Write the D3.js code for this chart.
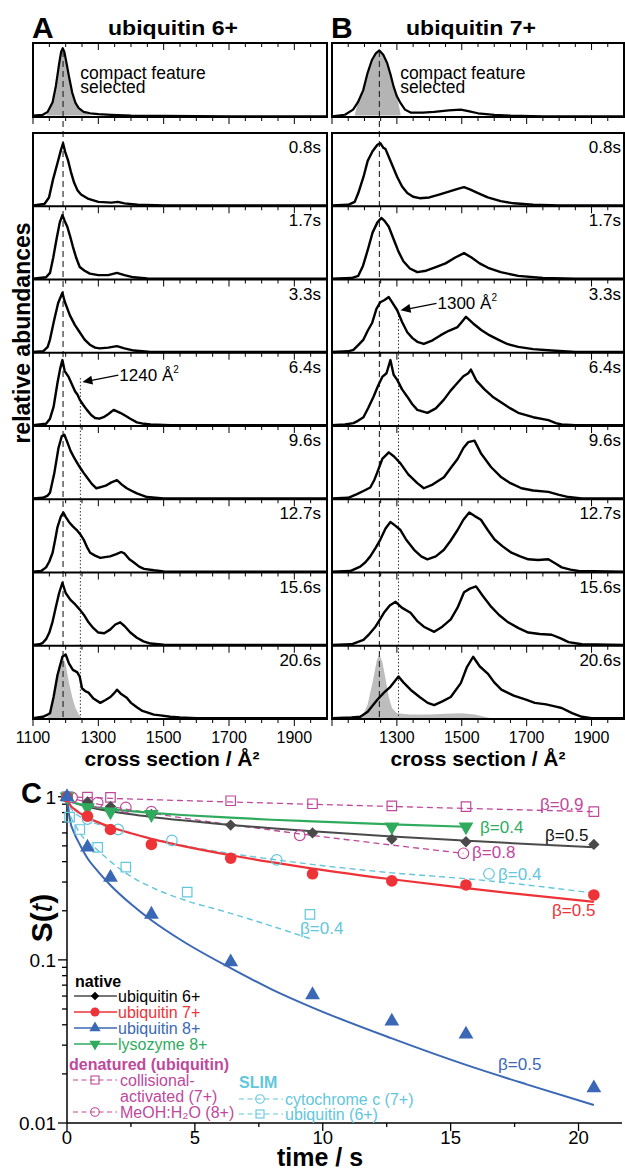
<!DOCTYPE html>
<html><head><meta charset="utf-8">
<script src="https://cdn.jsdelivr.net/npm/d3@7"></script>
<style>
body{margin:0;background:#fff}
text{font-family:Arial,"Liberation Sans",sans-serif}
</style>
</head><body>
<svg id="fig" width="625" height="1173"></svg>
<script>
// ---- A: ubiquitin 6+  [cross section, relative abundance] ----
const aSel = [[1100,.02],[1130,.03],[1145,.07],[1160,.2],[1170,.42],[1180,.72],[1186,.88],[1191,.93],[1196,.88],[1203,.72],[1210,.55],[1220,.33],[1230,.19],[1240,.12],[1255,.07],[1275,.05],[1300,.04],[1340,.03],[1400,.02],[1500,.015],[1700,.01],[2000,.01]];
const aSelFill = [[1140,.02],[1150,.1],[1160,.2],[1170,.42],[1180,.72],[1186,.88],[1191,.93],[1196,.88],[1203,.72],[1210,.55],[1220,.33],[1230,.19],[1240,.12],[1255,.07],[1275,.03]];
const a08 = [[1100,.01],[1135,.03],[1149,.12],[1161,.36],[1175,.59],[1185,.76],[1192,.86],[1198,.75],[1207,.63],[1216,.47],[1226,.32],[1236,.22],[1247,.16],[1270,.1],[1300,.06],[1340,.05],[1360,.06],[1380,.04],[1420,.02],[1500,.01],[2000,.01]];
const a17 = [[1100,.01],[1140,.03],[1152,.09],[1162,.3],[1172,.55],[1182,.78],[1190,.88],[1197,.8],[1205,.72],[1213,.6],[1222,.45],[1232,.3],[1243,.17],[1258,.12],[1274,.08],[1300,.06],[1330,.06],[1357,.09],[1380,.06],[1408,.03],[1450,.015],[1550,.01],[2000,.01]];
const a33 = [[1100,.01],[1131,.02],[1145,.08],[1152,.18],[1165,.45],[1177,.68],[1190,.82],[1197,.7],[1213,.51],[1228,.38],[1243,.28],[1258,.18],[1274,.11],[1290,.07],[1304,.06],[1330,.07],[1357,.09],[1380,.06],[1409,.03],[1460,.01],[2000,.01]];
const a64 = [[1100,.01],[1140,.03],[1152,.1],[1163,.26],[1175,.59],[1183,.78],[1190,.9],[1197,.75],[1209,.67],[1220,.56],[1229,.47],[1236,.43],[1243,.36],[1255,.28],[1265,.22],[1278,.15],[1290,.11],[1303,.1],[1316,.12],[1330,.16],[1347,.22],[1357,.2],[1367,.18],[1383,.14],[1398,.1],[1418,.05],[1440,.03],[1460,.02],[1520,.01],[2000,.01]];
const a96 = [[1100,.01],[1130,.02],[1145,.05],[1152,.09],[1165,.35],[1178,.7],[1188,.86],[1196,.88],[1205,.78],[1215,.66],[1228,.55],[1243,.44],[1255,.36],[1265,.3],[1280,.21],[1294,.15],[1310,.17],[1325,.19],[1340,.23],[1357,.26],[1372,.2],[1387,.15],[1400,.12],[1418,.08],[1449,.03],[1500,.01],[2000,.01]];
const a127 = [[1100,.01],[1125,.02],[1140,.07],[1150,.15],[1160,.27],[1168,.45],[1175,.62],[1185,.76],[1193,.82],[1200,.76],[1210,.69],[1222,.63],[1234,.58],[1245,.52],[1255,.45],[1265,.35],[1275,.27],[1290,.23],[1306,.2],[1320,.21],[1336,.22],[1355,.25],[1370,.28],[1380,.26],[1395,.18],[1408,.14],[1425,.08],[1440,.05],[1470,.03],[1500,.015],[2000,.01]];
const a156 = [[1100,.01],[1120,.02],[1130,.04],[1140,.09],[1150,.18],[1160,.33],[1170,.53],[1180,.72],[1190,.86],[1200,.72],[1214,.63],[1230,.56],[1244,.49],[1256,.42],[1270,.32],[1285,.24],[1300,.18],[1318,.17],[1336,.22],[1352,.29],[1367,.32],[1380,.27],[1398,.18],[1418,.11],[1438,.06],[1460,.03],[1500,.015],[2000,.01]];
const a206 = [[1100,.01],[1130,.03],[1145,.06],[1152,.08],[1163,.3],[1175,.6],[1190,.85],[1200,.88],[1210,.76],[1222,.67],[1235,.64],[1243,.58],[1250,.42],[1260,.38],[1270,.36],[1285,.28],[1306,.22],[1322,.26],[1337,.3],[1350,.36],[1357,.4],[1370,.34],[1387,.29],[1400,.22],[1418,.16],[1435,.11],[1449,.09],[1470,.06],[1490,.05],[1520,.03],[1550,.02],[1600,.01],[2000,.01]];
const aRef = [[1140,0],[1150,.05],[1160,.2],[1170,.45],[1180,.72],[1190,.88],[1200,.74],[1210,.5],[1220,.3],[1230,.15],[1240,.06],[1250,0]];

// ---- B: ubiquitin 7+ ----
const bSel = [[1100,.01],[1140,.03],[1165,.1],[1180,.2],[1196,.36],[1210,.6],[1223,.77],[1235,.86],[1246,.9],[1258,.84],[1270,.73],[1280,.58],[1290,.41],[1300,.28],[1311,.19],[1325,.1],[1342,.06],[1380,.06],[1415,.07],[1460,.09],[1497,.1],[1520,.08],[1550,.05],[1600,.03],[1650,.02],[1750,.01],[2000,.01]];
const bSelFill = [[1170,.03],[1180,.2],[1196,.36],[1210,.6],[1223,.77],[1235,.86],[1246,.9],[1258,.84],[1270,.73],[1280,.58],[1290,.41],[1300,.28],[1311,.05]];
const b08 = [[1100,.01],[1150,.02],[1170,.06],[1181,.18],[1197,.4],[1210,.62],[1225,.75],[1240,.84],[1249,.86],[1258,.8],[1265,.78],[1280,.62],[1301,.4],[1316,.27],[1332,.18],[1350,.13],[1370,.11],[1400,.12],[1430,.16],[1460,.2],[1490,.24],[1507,.26],[1525,.23],[1550,.18],[1580,.12],[1620,.07],[1660,.04],[1720,.02],[1800,.01],[2000,.01]];
const b17 = [[1100,.01],[1160,.02],[1181,.05],[1195,.18],[1210,.4],[1225,.64],[1240,.78],[1252,.84],[1262,.8],[1275,.72],[1290,.55],[1305,.38],[1320,.25],[1340,.15],[1363,.1],[1390,.12],[1420,.17],[1450,.22],[1480,.3],[1507,.36],[1530,.3],[1555,.22],[1581,.16],[1620,.1],[1674,.05],[1750,.02],[1850,.01],[2000,.01]];
const b33 = [[1100,.01],[1150,.02],[1166,.04],[1180,.1],[1197,.18],[1210,.3],[1224,.41],[1237,.6],[1249,.69],[1262,.72],[1275,.76],[1288,.67],[1301,.58],[1316,.42],[1332,.28],[1348,.2],[1363,.15],[1383,.12],[1410,.17],[1435,.24],[1460,.3],[1487,.35],[1500,.42],[1513,.49],[1535,.4],[1560,.31],[1585,.24],[1612,.18],[1640,.12],[1674,.08],[1720,.05],[1777,.03],[1850,.01],[2000,.01]];
const b64 = [[1100,.01],[1140,.02],[1166,.04],[1180,.07],[1197,.12],[1212,.25],[1228,.4],[1242,.55],[1255,.67],[1268,.72],[1280,.9],[1290,.7],[1301,.63],[1316,.5],[1332,.4],[1347,.3],[1363,.22],[1394,.18],[1420,.24],[1445,.36],[1465,.48],[1487,.59],[1505,.68],[1520,.72],[1528,.77],[1545,.62],[1570,.5],[1595,.4],[1622,.32],[1650,.24],[1674,.18],[1720,.12],[1767,.08],[1790,.04],[1808,.02],[1850,.01],[2000,.01]];
const b96 = [[1100,.01],[1150,.02],[1177,.07],[1200,.12],[1218,.16],[1230,.26],[1239,.36],[1255,.55],[1275,.64],[1292,.58],[1311,.49],[1335,.34],[1363,.22],[1383,.15],[1410,.2],[1445,.3],[1470,.45],[1487,.55],[1505,.7],[1520,.78],[1539,.8],[1560,.62],[1590,.44],[1622,.3],[1650,.22],[1684,.15],[1720,.12],[1767,.1],[1800,.06],[1829,.03],[1870,.01],[2000,.01]];
const b127 = [[1100,.01],[1156,.02],[1187,.08],[1203,.14],[1218,.22],[1235,.34],[1249,.45],[1265,.6],[1280,.69],[1295,.64],[1311,.58],[1330,.44],[1353,.31],[1375,.22],[1394,.18],[1420,.22],[1445,.31],[1465,.43],[1487,.58],[1505,.72],[1523,.82],[1540,.77],[1559,.72],[1580,.58],[1601,.45],[1625,.36],[1653,.27],[1680,.22],[1705,.18],[1735,.17],[1767,.18],[1790,.12],[1808,.07],[1835,.04],[1860,.02],[2000,.01]];
const b156 = [[1100,.01],[1160,.02],[1197,.08],[1215,.16],[1234,.26],[1248,.36],[1260,.45],[1278,.55],[1296,.6],[1315,.52],[1342,.45],[1362,.34],[1383,.26],[1415,.19],[1440,.26],[1466,.36],[1487,.52],[1507,.73],[1525,.78],[1544,.81],[1565,.68],[1591,.53],[1615,.42],[1643,.32],[1675,.24],[1705,.18],[1740,.16],[1777,.15],[1805,.1],[1829,.05],[1870,.02],[2000,.01]];
const b206 = [[1100,.01],[1160,.02],[1187,.03],[1210,.1],[1239,.26],[1260,.36],[1280,.44],[1305,.58],[1320,.5],[1342,.4],[1370,.3],[1395,.22],[1415,.19],[1440,.24],[1466,.3],[1497,.49],[1515,.7],[1535,.85],[1555,.72],[1580,.62],[1600,.5],[1622,.4],[1660,.32],[1700,.26],[1725,.22],[1760,.2],[1790,.17],[1808,.15],[1840,.08],[1870,.03],[1900,.01],[2000,.01]];
const bRef = [[1180,0],[1195,.05],[1210,.2],[1225,.5],[1238,.8],[1246,.88],[1255,.78],[1265,.55],[1275,.3],[1285,.15],[1300,.08],[1340,.06],[1400,.06],[1450,.07],[1500,.08],[1540,.06],[1570,.03],[1600,0]];

const timeLabels = ["0.8s","1.7s","3.3s","6.4s","9.6s","12.7s","15.6s","20.6s"];
const ccsMajor = [1100,1300,1500,1700,1900];

// ---- C: survival S(t) ----
const tNative = [0,0.8,1.7,3.3,6.4,9.6,12.7,15.6,20.6];
const sUbq6 = [1,.93,.87,.78,.67,.60,.55,.53,.51];
const sUbq7 = [1,.76,.63,.51,.42,.337,.305,.288,.25];
const sUbq8 = [1,.49,.32,.19,.097,.061,.042,.035,.0164];
const tLyso = [0,0.8,1.7,3.3,12.7,15.6];
const sLyso = [1,.86,.81,.78,.655,.655];
const tColl = [0,0.8,1.7,6.4,9.6,12.7,15.6,20.6];
const sColl = [1,.995,.99,.945,.906,.88,.87,.81];
const tMeoh = [0,0.2,1.2,2.3,3.3,9.1,15.5];
const sMeoh = [1,.99,.92,.86,.81,.58,.45];
const tCyt = [0,0.8,2.0,4.1,8.2,16.5];
const sCyt = [1,.73,.63,.54,.41,.337];
const tSlimU = [0,0.1,0.5,1.2,2.3,4.7,9.5];
const sSlimU = [1,.75,.63,.49,.37,.26,.19];

// fitted curves
const tFit = [0,0.1,0.3,0.5,0.8,1.2,1.7,2.5,3.3,4.5,6.4,8,9.6,12.7,15.6,18,20.6];
const fitUbq6 = [1,.95,.918,.895,.869,.842,.815,.78,.752,.717,.672,.641,.614,.571,.538,.513,.49];
const fitUbq7 = [1,.902,.836,.794,.747,.699,.653,.597,.552,.5,.438,.397,.363,.312,.275,.25,.227];
const fitUbq8 = [1,.74,.59,.51,.42,.35,.287,.22,.175,.131,.089,.066,.051,.033,.0227,.0172,.0129];
const tFitLyso = [0,0.1,0.3,0.5,0.8,1.2,1.7,2.5,3.3,4.5,6.4,8,9.6,12.7,15.6];
const fitLyso = [1,.945,.917,.899,.879,.859,.84,.816,.797,.773,.744,.723,.706,.677,.655];
const tFitColl = [0,0.1,0.8,1.7,3.3,6.4,9.6,12.7,15.6,20.6];
const fitColl = [1,.998,.989,.978,.96,.929,.899,.872,.848,.81];
const tFitMeoh = [0,0.2,0.5,1.2,2.3,3.3,4.7,6.4,9.1,12,15.5];
const fitMeoh = [1,.976,.95,.902,.84,.793,.735,.674,.593,.521,.45];
const tFitCyt = [0,0.1,0.3,0.8,2,4.1,8.2,12,16.5,20.5];
const fitCyt = [1,.88,.8,.72,.63,.52,.41,.35,.305,.258];
const tFitSlimU = [0,0.1,0.3,0.5,1.2,2.3,3.5,4.7,6.3,7.8,9.5];
const fitSlimU = [1,.8,.68,.6,.47,.34,.27,.23,.195,.165,.135];

const colGray = "#4a4a4a", colRed = "#ee3338", colBlue = "#3b68b5", colGreen = "#2fab5e",
      colMag = "#c0489c", colCyan = "#62c6dc";

const svg = d3.select("#fig");

// ---------- stacked spectra ----------
const selTop = 43, selBot = 117, stackTop = 133, rowH = 73.25, nRows = 8;
const stackBot = stackTop + rowH * nRows;

function drawStack(o) {
  const x = d3.scaleLinear().domain([1100, 2000]).range([o.x0, o.x1]);
  const g = svg.append("g");
  const ySel = d3.scaleLinear().domain([0, 1]).range([selBot, selTop]);
  const yRow = i => d3.scaleLinear().domain([0, 1]).range([stackTop + rowH * (i + 1), stackTop + rowH * i]);

  // gray fills
  g.append("path").datum(o.selFill)
    .attr("d", d3.area().x(d => x(d[0])).y0(ySel(0.02)).y1(d => ySel(d[1])))
    .attr("fill", "#b4b4b4");
  const yLast = yRow(nRows - 1);
  g.append("path").datum(o.ref)
    .attr("d", d3.area().x(d => x(d[0])).y0(yLast(0.01)).y1(d => yLast(d[1])))
    .attr("fill", "#bdbdbd");

  // reference lines
  g.append("line").attr("x1", x(o.dash)).attr("x2", x(o.dash))
    .attr("y1", selTop + 8).attr("y2", stackBot)
    .attr("stroke", "#222").attr("stroke-width", 1.1).attr("stroke-dasharray", "6,4");
  g.append("line").attr("x1", x(o.dot)).attr("x2", x(o.dot))
    .attr("y1", o.dotTop).attr("y2", stackBot)
    .attr("stroke", "#222").attr("stroke-width", 0.9).attr("stroke-dasharray", "1.5,2");

  const line = y => d3.line().x(d => x(d[0])).y(d => y(d[1]));
  g.append("path").datum(o.sel).attr("d", line(ySel))
    .attr("fill", "none").attr("stroke", "#000").attr("stroke-width", 2.2).attr("stroke-linejoin", "round");
  o.traces.forEach((tr, i) => {
    g.append("path").datum(tr).attr("d", line(yRow(i)))
      .attr("fill", "none").attr("stroke", "#000").attr("stroke-width", 2.4).attr("stroke-linejoin", "round");
  });

  // frames
  g.append("rect").attr("x", o.x0).attr("y", selTop).attr("width", o.x1 - o.x0).attr("height", selBot - selTop)
    .attr("fill", "none").attr("stroke", "#000").attr("stroke-width", 2);
  g.append("rect").attr("x", o.x0).attr("y", stackTop).attr("width", o.x1 - o.x0).attr("height", stackBot - stackTop)
    .attr("fill", "none").attr("stroke", "#000").attr("stroke-width", 2);
  for (let i = 1; i < nRows; i++) {
    g.append("line").attr("x1", o.x0).attr("x2", o.x1)
      .attr("y1", stackTop + rowH * i).attr("y2", stackTop + rowH * i)
      .attr("stroke", "#000").attr("stroke-width", 2);
  }

  // tick marks (every 50, long at 200 steps)
  const ticks = d3.range(1100, 2001, 50).filter(v => x(v) < o.x1 - 1);
  const tickRows = [selTop, selBot];
  for (let i = 1; i <= nRows; i++) tickRows.push(stackTop + rowH * i);
  tickRows.forEach(y0 => {
    g.selectAll(null).data(ticks).enter().append("line")
      .attr("x1", d => x(d)).attr("x2", d => x(d))
      .attr("y1", y0).attr("y2", d => y0 + (ccsMajor.includes(d) ? 7 : 4))
      .attr("stroke", "#000").attr("stroke-width", 1);
  });

  // tick labels
  g.selectAll(null).data(o.labels).enter().append("text")
    .attr("x", d => x(d)).attr("y", stackBot + 24)
    .attr("text-anchor", "middle").attr("font-size", 16).text(d => d);
  g.append("text").attr("x", o.xLabel).attr("y", 766).attr("text-anchor", "middle")
    .attr("font-size", 21).attr("font-weight", "bold").text("cross section / Å²");

  // time labels
  timeLabels.forEach((t, i) => {
    g.append("text").attr("x", o.timeX).attr("y", stackTop + rowH * i + 20)
      .attr("text-anchor", "end").attr("font-size", 17).text(t);
  });

  // "compact feature selected"
  const cf = g.append("text").attr("font-size", 17.5);
  cf.append("tspan").attr("x", x(o.cfAt)).attr("y", 79).text("compact feature");
  cf.append("tspan").attr("x", x(o.cfAt)).attr("y", 93).text("selected");

  // panel letter + title
  g.append("text").attr("x", o.x0 - 1).attr("y", 38).attr("font-size", 30).attr("font-weight", "bold").text(o.letter);
  g.append("text").attr("x", o.titleX).attr("y", 35).attr("font-size", 21).attr("font-weight", "bold")
    .attr("textLength", 130).attr("lengthAdjust", "spacingAndGlyphs").text(o.title);

  // arrow annotation
  const ya = yRow(o.arrowRow);
  const tipX = x(o.dot) + 2, tipY = ya(o.arrowH);
  const tailX = tipX + 36, tailY = tipY - 7;
  g.append("line").attr("x1", tailX).attr("y1", tailY).attr("x2", tipX + 8).attr("y2", tipY - 1.5)
    .attr("stroke", "#000").attr("stroke-width", 1.3);
  const ang = Math.atan2(tipY - tailY, tipX - tailX);
  const hl = 10, hw = 4.5;
  const bx = tipX - hl * Math.cos(ang), by = tipY - hl * Math.sin(ang);
  g.append("path").attr("d", `M${tipX},${tipY}L${bx + hw * Math.sin(ang)},${by - hw * Math.cos(ang)}L${bx - hw * Math.sin(ang)},${by + hw * Math.cos(ang)}Z`)
    .attr("fill", "#000");
  const at = g.append("text").attr("x", tailX + 1).attr("y", tailY + 6).attr("font-size", 17);
  at.append("tspan").text(o.arrowText + " Å");
  at.append("tspan").attr("font-size", 10).attr("dy", -8).text("2");
  return x;
}

drawStack({
  x0: 33, x1: 327, sel: aSel, selFill: aSelFill, traces: [a08, a17, a33, a64, a96, a127, a156, a206], ref: aRef,
  dash: 1192, dot: 1245, dotTop: 378, labels: [1100, 1300, 1500, 1700, 1900], xLabel: 172, timeX: 321,
  cfAt: 1245, letter: "A", title: "ubiquitin 6+", titleX: 108, arrowRow: 3, arrowH: 0.6, arrowText: "1240"
});
drawStack({
  x0: 332, x1: 624, sel: bSel, selFill: bSelFill, traces: [b08, b17, b33, b64, b96, b127, b156, b206], ref: bRef,
  dash: 1246, dot: 1305, dotTop: 312, labels: [1300, 1500, 1700, 1900], xLabel: 478, timeX: 621,
  cfAt: 1310, letter: "B", title: "ubiquitin 7+", titleX: 406, arrowRow: 2, arrowH: 0.58, arrowText: "1300"
});

svg.append("text").attr("transform", "translate(30,333) rotate(-90)").attr("text-anchor", "middle")
  .attr("font-size", 23).attr("font-weight", "bold").text("relative abundances");

// ---------- panel C ----------
const xC = d3.scaleLinear().domain([0, 21.7]).range([67, 622]);
const yC = d3.scaleLog().domain([0.01, 1.1]).range([1123, 790]);
const gC = svg.append("g");

// axes
gC.append("line").attr("x1", xC(0)).attr("x2", xC(0)).attr("y1", yC(1.1)).attr("y2", yC(0.01)).attr("stroke", "#000").attr("stroke-width", 1.5);
gC.append("line").attr("x1", xC(0)).attr("x2", xC(21.7)).attr("y1", yC(0.01)).attr("y2", yC(0.01)).attr("stroke", "#000").attr("stroke-width", 1.5);
const xTicks = d3.range(0, 21.7, 2.5);
gC.selectAll(null).data(xTicks).enter().append("line")
  .attr("x1", d => xC(d)).attr("x2", d => xC(d)).attr("y1", yC(0.01))
  .attr("y2", d => yC(0.01) + (d % 5 === 0 ? 8 : 4)).attr("stroke", "#000").attr("stroke-width", 1.3);
gC.selectAll(null).data([0, 5, 10, 15, 20]).enter().append("text")
  .attr("x", d => xC(d)).attr("y", 1144).attr("text-anchor", "middle").attr("font-size", 18.5).text(d => d);
const yTicks = [];
[0.01, 0.1].forEach(dec => { for (let k = 1; k < 10; k++) yTicks.push(dec * k); });
yTicks.push(1);
gC.selectAll(null).data(yTicks).enter().append("line")
  .attr("x1", d => xC(0) - ([0.01, 0.1, 1].some(m => Math.abs(m - d) < 1e-9) ? 9 : 5)).attr("x2", xC(0))
  .attr("y1", d => yC(d)).attr("y2", d => yC(d)).attr("stroke", "#000").attr("stroke-width", 1.3);
gC.selectAll(null).data([[1, "1"], [0.1, "0.1"], [0.01, "0.01"]]).enter().append("text")
  .attr("x", 56).attr("y", d => yC(d[0])).attr("dy", "0.36em").attr("text-anchor", "end")
  .attr("font-size", 19).text(d => d[1]);

gC.append("text").attr("x", 21).attr("y", 803).attr("font-size", 29).attr("font-weight", "bold").text("C");
const st = gC.append("text").attr("transform", "translate(52,918) rotate(-90)").attr("text-anchor", "middle")
  .attr("font-size", 30).attr("font-weight", "bold");
st.append("tspan").text("S(");
st.append("tspan").attr("font-style", "italic").attr("font-weight", "normal").text("t");
st.append("tspan").text(")");
gC.append("text").attr("x", 320).attr("y", 1166).attr("text-anchor", "middle")
  .attr("font-size", 25).attr("font-weight", "bold").text("time / s");

// fitted curves
const fitLine = d3.line().x(d => xC(d[0])).y(d => yC(d[1])).curve(d3.curveMonotoneX);
const pairs = (ts, ss) => ts.map((t, i) => [t, ss[i]]);
function curve(ts, ss, col, dashed, w) {
  gC.append("path").datum(pairs(ts, ss)).attr("d", fitLine).attr("fill", "none")
    .attr("stroke", col).attr("stroke-width", w).attr("stroke-dasharray", dashed ? "6,4" : null);
}
curve(tFitColl, fitColl, colMag, true, 1.3);
curve(tFitMeoh, fitMeoh, colMag, true, 1.3);
curve(tFitCyt, fitCyt, colCyan, true, 1.4);
curve(tFitSlimU, fitSlimU, colCyan, true, 1.4);
curve(tFit, fitUbq6, colGray, false, 2);
curve(tFitLyso, fitLyso, colGreen, false, 2.2);
curve(tFit, fitUbq7, colRed, false, 2.2);
curve(tFit, fitUbq8, colBlue, false, 2);

// markers
const symSq = d3.symbol(d3.symbolSquare, 64)();
const symTri = d3.symbol(d3.symbolTriangle, 95)();
const symOpenSq = d3.symbol(d3.symbolSquare, 90)();
function marks(ts, ss, kind, col) {
  const sel = gC.selectAll(null).data(pairs(ts, ss)).enter();
  if (kind === "circle" || kind === "ocircle") {
    sel.append("circle").attr("cx", d => xC(d[0])).attr("cy", d => yC(d[1]))
      .attr("r", kind === "circle" ? 5.8 : 5.3)
      .attr("fill", kind === "circle" ? col : "none").attr("stroke", col).attr("stroke-width", kind === "circle" ? 0 : 1.2);
  } else {
    const rot = { diamond: 45, tri: 0, tridown: 180, osq: 0 }[kind];
    const path = { diamond: symSq, tri: symTri, tridown: symTri, osq: symOpenSq }[kind];
    sel.append("path").attr("d", path)
      .attr("transform", d => `translate(${xC(d[0])},${yC(d[1])}) rotate(${rot})`)
      .attr("fill", kind === "osq" ? "none" : col).attr("stroke", kind === "osq" ? col : "none").attr("stroke-width", 1.2);
  }
}
marks(tColl, sColl, "osq", colMag);
marks(tMeoh, sMeoh, "ocircle", colMag);
marks(tCyt, sCyt, "ocircle", colCyan);
marks(tSlimU, sSlimU, "osq", colCyan);
marks(tNative, sUbq6, "diamond", colGray);
marks(tLyso, sLyso, "tridown", colGreen);
marks(tNative, sUbq7, "circle", colRed);
marks(tNative, sUbq8, "tri", colBlue);

// beta labels
const betaLabels = [
  ["β=0.9", 540, 810, colMag], ["β=0.4", 480, 833, colGreen], ["β=0.5", 545, 841, "#111"],
  ["β=0.8", 472, 858, colMag], ["β=0.4", 498, 880, colCyan], ["β=0.5", 552, 916, colRed],
  ["β=0.4", 300, 934, colCyan], ["β=0.5", 498, 1070, colBlue]
];
gC.selectAll(null).data(betaLabels).enter().append("text")
  .attr("x", d => d[1]).attr("y", d => d[2]).attr("fill", d => d[3]).attr("font-size", 17).text(d => d[0]);

// legend
const legNative = [["ubiquitin 6+", "diamond", colGray, 996, "#000"], ["ubiquitin 7+", "circle", colRed, 1012, colRed],
                   ["ubiquitin 8+", "tri", colBlue, 1028, colBlue], ["lysozyme 8+", "tridown", colGreen, 1044, colGreen]];
gC.append("text").attr("x", 75).attr("y", 987).attr("font-size", 16).attr("font-weight", "bold").text("native");
legNative.forEach(([name, kind, col, y, tcol]) => {
  gC.append("line").attr("x1", 74).attr("x2", 117).attr("y1", y).attr("y2", y).attr("stroke", col).attr("stroke-width", 1.6);
  const rot = { diamond: 45, tri: 0, tridown: 180 }[kind];
  if (kind === "circle") gC.append("circle").attr("cx", 95).attr("cy", y).attr("r", 4.5).attr("fill", col);
  else gC.append("path").attr("d", kind === "diamond" ? d3.symbol(d3.symbolSquare, 36)() : d3.symbol(d3.symbolTriangle, 55)())
    .attr("transform", `translate(95,${y}) rotate(${rot})`).attr("fill", kind === "diamond" ? "#000" : col);
  gC.append("text").attr("x", 118).attr("y", y).attr("dy", "0.35em").attr("font-size", 16).attr("fill", tcol).text(name);
});
gC.append("text").attr("x", 69).attr("y", 1070).attr("font-size", 16).attr("font-weight", "bold").attr("fill", colMag).text("denatured (ubiquitin)");
const legDen = [[["collisional-", "activated (7+)"], "osq", 1080], [["MeOH:H₂O (8+)"], "ocircle", 1112]];
legDen.forEach(([lines, kind, y]) => {
  gC.append("line").attr("x1", 73).attr("x2", 117).attr("y1", y).attr("y2", y).attr("stroke", colMag).attr("stroke-width", 1.2).attr("stroke-dasharray", "5,3.5");
  if (kind === "osq") gC.append("rect").attr("x", 91).attr("y", y - 4).attr("width", 8).attr("height", 8).attr("fill", "none").attr("stroke", colMag).attr("stroke-width", 1.1);
  else gC.append("circle").attr("cx", 95).attr("cy", y).attr("r", 4.3).attr("fill", "none").attr("stroke", colMag).attr("stroke-width", 1.1);
  lines.forEach((l, k) => gC.append("text").attr("x", 120).attr("y", y + k * 16).attr("dy", "0.35em")
    .attr("font-size", 16).attr("fill", colMag).text(l));
});
gC.append("text").attr("x", 239).attr("y", 1088).attr("font-size", 16).attr("font-weight", "bold").attr("fill", colCyan).text("SLIM");
const legSlim = [["cytochrome c (7+)", "ocircle", 1099], ["ubiquitin (6+)", "osq", 1114]];
legSlim.forEach(([name, kind, y]) => {
  gC.append("line").attr("x1", 239).attr("x2", 283).attr("y1", y).attr("y2", y).attr("stroke", colCyan).attr("stroke-width", 1.2).attr("stroke-dasharray", "5,3.5");
  if (kind === "osq") gC.append("rect").attr("x", 256).attr("y", y - 4).attr("width", 8).attr("height", 8).attr("fill", "none").attr("stroke", colCyan).attr("stroke-width", 1.1);
  else gC.append("circle").attr("cx", 260).attr("cy", y).attr("r", 4.3).attr("fill", "none").attr("stroke", colCyan).attr("stroke-width", 1.1);
  gC.append("text").attr("x", 285).attr("y", y).attr("dy", "0.35em").attr("font-size", 16).attr("fill", colCyan).text(name);
});
</script>
</body></html>
